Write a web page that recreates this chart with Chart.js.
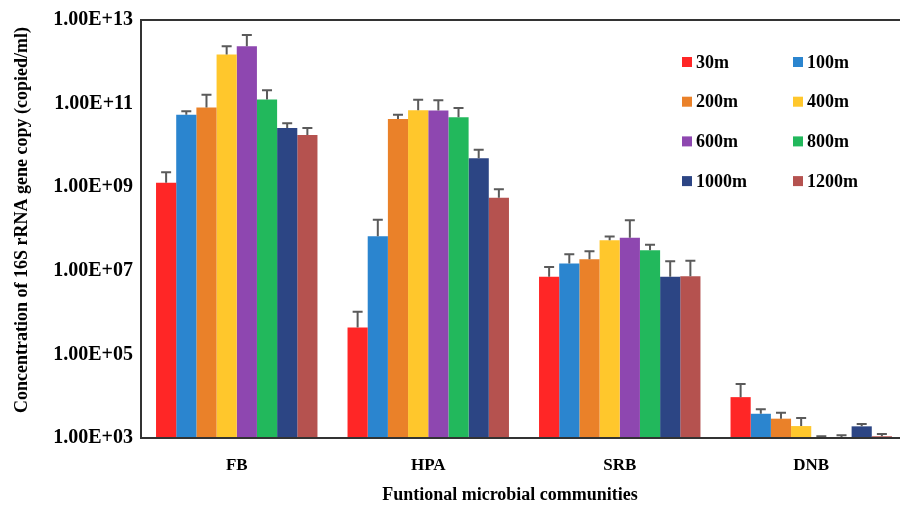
<!DOCTYPE html>
<html>
<head>
<meta charset="utf-8">
<script src="https://cdn.jsdelivr.net/npm/chart.js@4/dist/chart.umd.min.js"></script>
<style>
  html, body { margin: 0; padding: 0; background: #fff; overflow: hidden; }
  #wrap { width: 908px; height: 506px; }
</style>
</head>
<body>
<div id="wrap"><canvas id="c" width="908" height="506"></canvas></div>
<script>
// ---- data ----
const categories = ['FB', 'HPA', 'SRB', 'DNB'];
const seriesLabels = ['30m', '100m', '200m', '400m', '600m', '800m', '1000m', '1200m'];
const seriesColors = ['#FF2626', '#2B85CF', '#EA8129', '#FFC72C', '#8E47B0', '#22B85C', '#2C4584', '#B5524F'];

const v30m   = [1.27e9, 4.4e5, 7.2e6, 9.5e3];
const v100m  = [5.4e10, 6.7e7, 1.5e7, 3.8e3];
const v200m  = [8.1e10, 4.3e10, 1.9e7, 2.9e3];
const v400m  = [1.5e12, 6.9e10, 5.4e7, 1.93e3];
const v600m  = [2.35e12, 6.8e10, 6.2e7, 1.05e3];
const v800m  = [1.26e11, 4.7e10, 3.1e7, 1.02e3];
const v1000m = [2.6e10, 4.9e9, 7.2e6, 1.9e3];
const v1200m = [1.78e10, 5.6e8, 7.4e6, 1.1e3];

// upper standard deviations
const sd30m   = [1.0e9, 6.1e5, 5.1e6, 1.0e4];
const sd100m  = [1.2e10, 9.9e7, 1.0e7, 1.1e3];
const sd200m  = [8.1e10, 1.1e10, 1.05e7, 1.1e3];
const sd400m  = [8.5e11, 5.4e10, 1.2e7, 1.07e3];
const sd600m  = [2.05e12, 5.2e10, 1.0e8, 5e1];
const sd800m  = [8.4e10, 3.1e10, 1.1e7, 1.5e2];
const sd1000m = [8e9, 3.0e9, 9.8e6, 2.5e2];
const sd1200m = [8.2e9, 3.3e8, 1.0e7, 1.5e2];

const yTicks = [1e3, 1e5, 1e7, 1e9, 1e11, 1e13];
const yTitle = 'Concentration of 16S rRNA gene copy (copied/ml)';
const xTitle = 'Funtional microbial communities';

const allValues = [v30m, v100m, v200m, v400m, v600m, v800m, v1000m, v1200m];
const allSd = [sd30m, sd100m, sd200m, sd400m, sd600m, sd800m, sd1000m, sd1200m];

const FONT = '"Liberation Serif", "Times New Roman", serif';

const datasets = seriesLabels.map((lab, i) => ({
  label: lab,
  data: allValues[i],
  sd: allSd[i],
  backgroundColor: seriesColors[i],
  borderWidth: 0,
  barPercentage: 1.0,
  categoryPercentage: 0.843
}));

function fmtExp(v) {
  const e = Math.round(Math.log10(v));
  return '1.00E' + (e >= 0 ? '+' : '-') + String(Math.abs(e)).padStart(2, '0');
}

const errorBars = {
  id: 'errorBars',
  afterDatasetsDraw(chart) {
    const ctx = chart.ctx;
    const y = chart.scales.y;
    ctx.save();
    ctx.strokeStyle = '#5a5a5a';
    ctx.lineWidth = 2;
    chart.data.datasets.forEach((ds, di) => {
      const meta = chart.getDatasetMeta(di);
      meta.data.forEach((bar, j) => {
        const top = y.getPixelForValue(ds.data[j] + ds.sd[j]);
        const base = bar.y;
        const x = bar.x;
        ctx.beginPath();
        ctx.moveTo(x, base);
        ctx.lineTo(x, top);
        ctx.moveTo(x - 5, top);
        ctx.lineTo(x + 5, top);
        ctx.stroke();
      });
    });
    ctx.restore();
  }
};

const frameAndText = {
  id: 'frameAndText',
  afterDraw(chart) {
    const ctx = chart.ctx;
    const a = chart.chartArea;
    ctx.save();
    // frame
    ctx.strokeStyle = '#333';
    ctx.lineWidth = 2;
    ctx.beginPath();
    ctx.moveTo(a.left, a.bottom);
    ctx.lineTo(a.left, a.top);
    ctx.lineTo(a.right, a.top);
    ctx.lineTo(a.right, a.bottom);
    ctx.closePath();
    ctx.stroke();
    // axis titles
    ctx.fillStyle = '#000';
    ctx.font = 'bold 18px ' + FONT;
    ctx.textAlign = 'center';
    ctx.textBaseline = 'middle';
    ctx.fillText(xTitle, 510, 495);
    ctx.translate(22, 220);
    ctx.rotate(-Math.PI / 2);
    ctx.fillText(yTitle, 0, 0);
    ctx.restore();

    // legend (inside plot, two columns)
    ctx.save();
    ctx.font = 'bold 18px ' + FONT;
    ctx.textAlign = 'left';
    ctx.textBaseline = 'middle';
    const colX = [a.left + 541, a.left + 652];
    const rowY0 = a.top + 42, rowStep = 39.7;
    chart.data.datasets.forEach((ds, i) => {
      const cx = colX[i % 2];
      const cy = rowY0 + Math.floor(i / 2) * rowStep;
      ctx.fillStyle = ds.backgroundColor;
      ctx.fillRect(cx, cy - 5, 10, 10);
      ctx.fillStyle = '#000';
      ctx.fillText(ds.label, cx + 14, cy + 1);
    });
    ctx.restore();
  }
};

new Chart(document.getElementById('c'), {
  type: 'bar',
  data: { labels: categories, datasets },
  options: {
    responsive: false,
    animation: false,
    layout: { padding: { top: 17, right: 1, left: 0, bottom: 0 } },
    plugins: { legend: { display: false }, tooltip: { enabled: false } },
    scales: {
      x: {
        grid: { display: false, drawTicks: false },
        border: { display: true, color: '#333', width: 2 },
        ticks: { color: '#000', font: { family: FONT, size: 17, weight: 'bold' }, padding: 17 },
        afterFit(s) { s.height = 68; }
      },
      y: {
        type: 'logarithmic',
        min: 1e3,
        max: 1e13,
        grid: { display: false, drawTicks: false },
        border: { display: true, color: '#333', width: 2 },
        afterBuildTicks(s) { s.ticks = yTicks.map(v => ({ value: v })); },
        ticks: {
          color: '#000',
          font: { family: FONT, size: 20, weight: 'bold' },
          padding: 8,
          callback: (v) => fmtExp(v)
        },
        afterFit(s) { s.width = 141; }
      }
    }
  },
  plugins: [errorBars, frameAndText]
});
</script>
</body>
</html>
